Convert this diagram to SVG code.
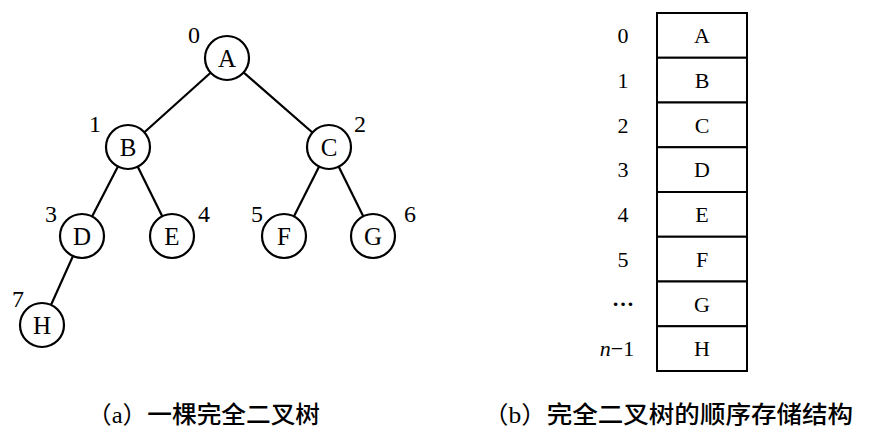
<svg xmlns="http://www.w3.org/2000/svg" width="894" height="442" viewBox="0 0 894 442">
<style>
.edge{stroke:#000;stroke-width:2.2;fill:none}
.node circle{fill:#fff;stroke:#000;stroke-width:2.2}
.lbl{font-family:"Liberation Serif","DejaVu Serif",serif;font-size:25px;text-anchor:middle;fill:#000}
.idx{font-family:"Liberation Serif","DejaVu Serif",serif;font-size:24px;text-anchor:middle;fill:#000}
.cell rect{fill:#fff;stroke:#000;stroke-width:2}
.tl{font-family:"Liberation Serif","DejaVu Serif",serif;font-size:22px;text-anchor:middle;fill:#000}
.cap{font-family:"Liberation Serif","Noto Sans CJK SC",sans-serif;font-size:24px;fill:#000}
.cjk{font-weight:500}
</style>
<rect width="894" height="442" fill="#fff"/>
<g id="connectors">
<line class="edge" x1="227" y1="58" x2="128" y2="147"/>
<line class="edge" x1="227" y1="58" x2="329" y2="147"/>
<line class="edge" x1="128" y1="147" x2="82" y2="236"/>
<line class="edge" x1="128" y1="147" x2="172" y2="236"/>
<line class="edge" x1="329" y1="147" x2="284" y2="236"/>
<line class="edge" x1="329" y1="147" x2="373" y2="236"/>
<line class="edge" x1="82" y1="236" x2="42" y2="325"/>
</g>
<g id="node-A" class="node"><circle cx="227" cy="58" r="22"/><text class="lbl" x="227" y="66.5">A</text><text class="idx" x="194" y="43">0</text></g>
<g id="node-B" class="node"><circle cx="128" cy="147" r="22"/><text class="lbl" x="128" y="155.5">B</text><text class="idx" x="95" y="132">1</text></g>
<g id="node-C" class="node"><circle cx="329" cy="147" r="22"/><text class="lbl" x="329" y="155.5">C</text><text class="idx" x="360" y="132">2</text></g>
<g id="node-D" class="node"><circle cx="82" cy="236" r="22"/><text class="lbl" x="82" y="244.5">D</text><text class="idx" x="51" y="222">3</text></g>
<g id="node-E" class="node"><circle cx="172" cy="236" r="22"/><text class="lbl" x="172" y="244.5">E</text><text class="idx" x="204" y="222">4</text></g>
<g id="node-F" class="node"><circle cx="284" cy="236" r="22"/><text class="lbl" x="284" y="244.5">F</text><text class="idx" x="257" y="222">5</text></g>
<g id="node-G" class="node"><circle cx="373" cy="236" r="22"/><text class="lbl" x="373" y="244.5">G</text><text class="idx" x="410" y="222">6</text></g>
<g id="node-H" class="node"><circle cx="42" cy="325" r="22"/><text class="lbl" x="42" y="333.5">H</text><text class="idx" x="18" y="307">7</text></g>

<g id="table">
<g id="cell-0" class="cell"><rect x="657" y="13" width="90" height="44.75"/><text class="tl" x="702" y="43">A</text><text class="tl" x="623" y="43">0</text></g>
<g id="cell-1" class="cell"><rect x="657" y="57.75" width="90" height="44.75"/><text class="tl" x="702" y="88">B</text><text class="tl" x="623" y="88">1</text></g>
<g id="cell-2" class="cell"><rect x="657" y="102.5" width="90" height="44.75"/><text class="tl" x="702" y="132.5">C</text><text class="tl" x="623" y="132.5">2</text></g>
<g id="cell-3" class="cell"><rect x="657" y="147.25" width="90" height="44.75"/><text class="tl" x="702" y="177">D</text><text class="tl" x="623" y="177">3</text></g>
<g id="cell-4" class="cell"><rect x="657" y="192" width="90" height="44.75"/><text class="tl" x="702" y="222">E</text><text class="tl" x="623" y="222">4</text></g>
<g id="cell-5" class="cell"><rect x="657" y="236.75" width="90" height="44.75"/><text class="tl" x="702" y="267">F</text><text class="tl" x="623" y="267">5</text></g>
<g id="cell-6" class="cell"><rect x="657" y="281.5" width="90" height="44.75"/><text class="tl" x="702" y="311.5">G</text><text class="tl" x="623" y="306" font-weight="bold">…</text></g>
<g id="cell-7" class="cell"><rect x="657" y="326.25" width="90" height="44.75"/><text class="tl" x="702" y="356">H</text><text class="tl" x="617" y="356"><tspan font-style="italic">n</tspan>−1</text></g>
</g>

<text class="cap" x="87" y="423" textLength="233" lengthAdjust="spacingAndGlyphs">（a）<tspan class="cjk">一棵完全二叉树</tspan></text>
<text class="cap" x="483" y="423" textLength="370" lengthAdjust="spacingAndGlyphs">（b）<tspan class="cjk">完全二叉树的顺序存储结构</tspan></text>
</svg>
